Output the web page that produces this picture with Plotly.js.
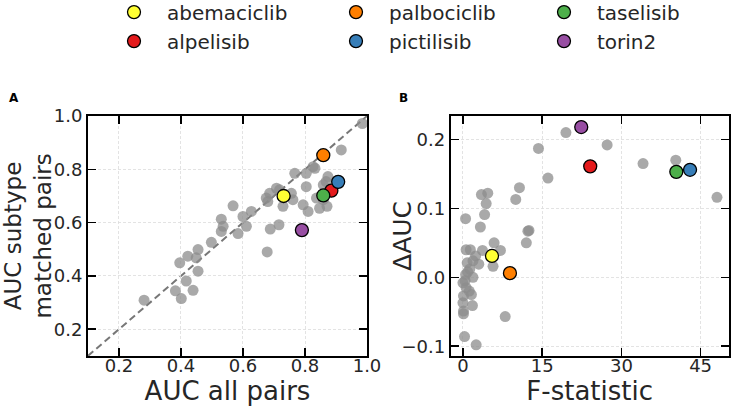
<!DOCTYPE html>
<html>
<head>
<meta charset="utf-8">
<script src="https://cdn.plot.ly/plotly-3.0.1.min.js"></script>
<style>
  html, body { margin: 0; padding: 0; background: #fff; }
  #chart { width: 733px; height: 410px; }
</style>
</head>
<body>
<div id="chart"></div>
<script>
// gray background drugs, panel A (AUC all pairs vs AUC subtype matched pairs)
const aucAllGray = [0.985, 0.917, 0.826, 0.832, 0.767, 0.804, 0.874, 0.868, 0.804, 0.859,
  0.708, 0.718, 0.686, 0.675, 0.680, 0.756, 0.761, 0.837, 0.859, 0.729,
  0.794, 0.810, 0.847, 0.871, 0.568, 0.627, 0.600, 0.611, 0.530, 0.536,
  0.530, 0.584, 0.716, 0.688, 0.678, 0.498, 0.455, 0.449, 0.422, 0.396,
  0.455, 0.417, 0.382, 0.401, 0.439, 0.281];
const aucMatchedGray = [0.972, 0.873, 0.810, 0.804, 0.785, 0.785, 0.773, 0.754, 0.735, 0.742,
  0.729, 0.723, 0.710, 0.692, 0.679, 0.710, 0.686, 0.692, 0.686, 0.661,
  0.667, 0.642, 0.654, 0.661, 0.663, 0.642, 0.623, 0.586, 0.613, 0.586,
  0.567, 0.559, 0.592, 0.576, 0.490, 0.526, 0.499, 0.468, 0.474, 0.449,
  0.418, 0.381, 0.344, 0.315, 0.346, 0.309];

// gray background drugs, panel B (F-statistic vs delta AUC)
const fstatGray = [19.5, 27.3, 14.3, 34.1, 40.3, 48.1, 16.1, 10.7, 10.0, 3.5,
  4.7, 4.4, 4.1, 0.5, 3.3, 12.5, 12.3, 12.0, 5.9, 7.1,
  3.7, 0.6, 1.4, 2.4, 1.9, 0.8, 3.0, 5.7, 1.3, 1.9,
  0.5, 0.0, 0.6, 1.6, 0.1, 0.0, 1.8, 0.1, 0.1, 8.0,
  0.3, 2.5, 0.9, 0.4, 1.2];
const dAucGray = [0.210, 0.192, 0.187, 0.165, 0.170, 0.116, 0.144, 0.130, 0.113, 0.120,
  0.122, 0.107, 0.091, 0.085, 0.073, 0.068, 0.067, 0.050, 0.050, 0.039,
  0.039, 0.040, 0.040, 0.031, 0.024, 0.021, 0.019, 0.016, 0.012, 0.000,
  0.004, -0.008, -0.015, -0.025, -0.027, -0.037, -0.041, -0.049, -0.053, -0.057,
  -0.086, -0.098, 0.008, -0.005, -0.020];

// highlighted drugs (legend columns: 0-1, 2-3, 4-5)
const drugs = ["abemaciclib", "alpelisib", "palbociclib", "pictilisib", "taselisib", "torin2"];
const drugColors = ["#ffff33", "#e41a1c", "#ff7f00", "#377eb8", "#4daf4a", "#984ea3"];
const drugAucAll = [0.731, 0.885, 0.859, 0.907, 0.859, 0.790];
const drugAucMatched = [0.700, 0.720, 0.853, 0.753, 0.702, 0.572];
const drugF = [5.5, 24.1, 8.9, 43.0, 40.4, 22.4];
const drugDAuc = [0.031, 0.161, 0.006, 0.156, 0.153, 0.218];
const legendIds = ["legend", "legend2", "legend3"];

const textColor = "#262626";
const gray = "rgb(140,140,140)";

const traces = [
  {
    x: aucAllGray, y: aucMatchedGray, xaxis: "x", yaxis: "y",
    type: "scatter", mode: "markers", showlegend: false, hoverinfo: "skip",
    marker: { color: gray, opacity: 0.75, size: 11, line: { width: 0 } },
  },
  {
    x: fstatGray, y: dAucGray, xaxis: "x2", yaxis: "y2",
    type: "scatter", mode: "markers", showlegend: false, hoverinfo: "skip",
    marker: { color: gray, opacity: 0.75, size: 11, line: { width: 0 } },
  },
];

drugs.forEach((name, i) => {
  const marker = { color: drugColors[i], size: 13, line: { color: "#000", width: 1.3 } };
  traces.push({
    x: [drugAucAll[i]], y: [drugAucMatched[i]], xaxis: "x", yaxis: "y",
    type: "scatter", mode: "markers", name: name, marker: marker,
    legend: legendIds[Math.floor(i / 2)], legendgroup: name,
  });
  traces.push({
    x: [drugF[i]], y: [drugDAuc[i]], xaxis: "x2", yaxis: "y2",
    type: "scatter", mode: "markers", name: name, marker: marker, showlegend: false,
  });
});

const axisBase = {
  showline: true, linecolor: "#000", linewidth: 2, mirror: "allticks",
  ticks: "inside", ticklen: 8, tickwidth: 1.5, tickcolor: "#000",
  showgrid: true, gridcolor: "#dcdcdc", griddash: "3px,2px", gridwidth: 0.8,
  zeroline: false, tickfont: { family: "DejaVu Sans", size: 18, color: textColor },
};
const font = (size) => ({ family: "DejaVu Sans", size: size, color: textColor });
const legendBase = {
  orientation: "v", xanchor: "left", yanchor: "top", y: 1.018,
  itemwidth: 56, tracegroupgap: 0,
  font: font(20), bgcolor: "rgba(0,0,0,0)",
};

const layout = {
  width: 733, height: 410,
  margin: { l: 0, r: 0, t: 0, b: 0, autoexpand: false },
  paper_bgcolor: "#fff", plot_bgcolor: "#fff",
  font: { family: "DejaVu Sans", color: textColor },
  xaxis: Object.assign({}, axisBase, {
    domain: [0.12, 0.5007], range: [0.1, 1.0], dtick: 0.2, tick0: 0.2, tickformat: ".1f",
    ticklabelstandoff: -7,
    anchor: "y", title: { text: "AUC all pairs", font: font(26), standoff: 4 },
  }),
  yaxis: Object.assign({}, axisBase, {
    domain: [0.132, 0.717], range: [0.1, 1.0], dtick: 0.2, tick0: 0.2, tickformat: ".1f",
    anchor: "x", title: { text: "AUC subtype<br>matched pairs", font: font(23), standoff: 4 },
  }),
  xaxis2: Object.assign({}, axisBase, {
    domain: [0.615, 0.994], range: [-2.3, 50.3], dtick: 15, tick0: 0,
    ticklabelstandoff: -7,
    anchor: "y2", title: { text: "F-statistic", font: font(26), standoff: 4 },
  }),
  yaxis2: Object.assign({}, axisBase, {
    domain: [0.132, 0.717], range: [-0.114, 0.234], dtick: 0.1, tick0: 0, tickformat: ".1f",
    anchor: "x2",
  }),
  legend: Object.assign({}, legendBase, { x: 101 / 733 }),
  legend2: Object.assign({}, legendBase, { x: 323 / 733 }),
  legend3: Object.assign({}, legendBase, { x: 531 / 733 }),
  shapes: [
    {
      type: "line", xref: "x", yref: "y", x0: 0.1, y0: 0.1, x1: 1.0, y1: 1.0,
      line: { color: "#777777", width: 2, dash: "7px,4px" }, layer: "below",
    },
  ],
  annotations: [
    { text: "<b>A</b>", xref: "paper", yref: "paper", x: 7 / 733, y: 1 - 98 / 410,
      xanchor: "left", yanchor: "middle", showarrow: false, font: { family: "DejaVu Sans", size: 12, color: "#000" } },
    { text: "<b>B</b>", xref: "paper", yref: "paper", x: 397 / 733, y: 1 - 98 / 410,
      xanchor: "left", yanchor: "middle", showarrow: false, font: { family: "DejaVu Sans", size: 12, color: "#000" } },
    { text: "ΔAUC", xref: "paper", yref: "paper", x: 403 / 733, y: (0.132 + 0.717) / 2,
      xanchor: "center", yanchor: "middle", textangle: -90, showarrow: false, font: font(25) },
  ],
};

Plotly.newPlot("chart", traces, layout, { displayModeBar: false, staticPlot: true });
</script>
</body>
</html>
